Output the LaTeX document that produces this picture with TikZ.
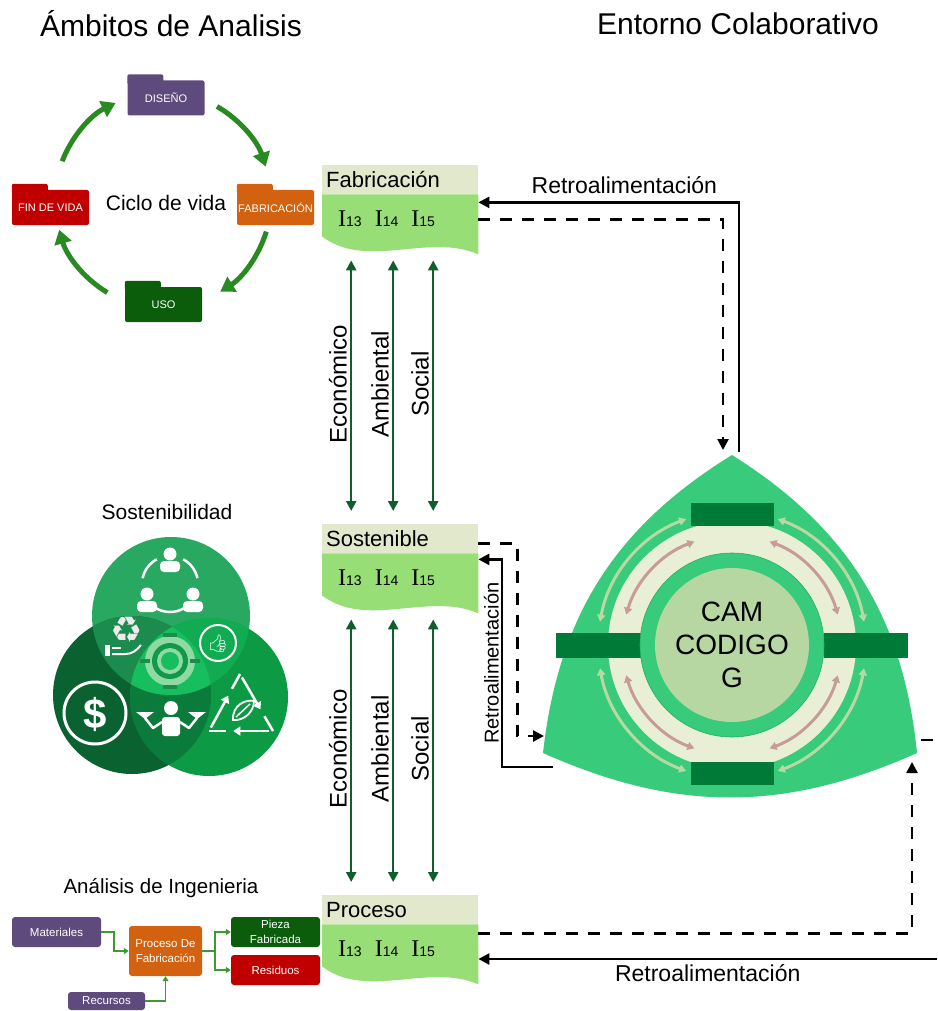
\documentclass[tikz,border=0pt]{standalone}
\usepackage{fontspec}
\setmainfont{Liberation Sans}
\newfontfamily\romanI{Liberation Serif}
\newfontfamily\emojifont{Noto Emoji}
\newfontfamily\symbolfont{DejaVu Sans}
\usetikzlibrary{arrows.meta,calc}

\definecolor{hdrbg}{HTML}{E2E8CB}
\definecolor{bodybg}{HTML}{98DE76}
\definecolor{cycgreen}{HTML}{2A8A22}
\definecolor{tiegreen}{HTML}{0F5F2C}
\definecolor{flowgreen}{HTML}{3C9A30}
\definecolor{fpurple}{HTML}{5E4A7C}
\definecolor{forange}{HTML}{D2620F}
\definecolor{fred}{HTML}{C00000}
\definecolor{fdkgreen}{HTML}{0B5C0B}
\definecolor{camg}{HTML}{37CB7B}
\definecolor{camedge}{HTML}{27AD63}
\definecolor{camdark}{HTML}{007A37}
\definecolor{camcore}{HTML}{B6D7A1}
\definecolor{cream}{HTML}{E9EFD4}
\definecolor{palearc}{HTML}{B9D9A4}
\definecolor{rosearc}{HTML}{C79C98}
\definecolor{vtop}{HTML}{29A862}
\definecolor{vleft}{HTML}{0A6230}
\definecolor{vright}{HTML}{0C9A45}
\definecolor{vtl}{HTML}{1B8B4E}
\definecolor{vtr}{HTML}{11AC52}
\definecolor{vlr}{HTML}{0B7B3B}
\definecolor{vmid}{HTML}{16BE5E}
\definecolor{tgpale}{HTML}{8FD9A2}

% I13-style indicator: roman I, sans digits on the same baseline
\newcommand{\indx}[1]{{\romanI\fontsize{24pt}{24pt}\selectfont I}{\fontsize{14pt}{14pt}\selectfont #1}}
% indicator block: beige title strip, green body with a wavy foot
\newcommand{\indblock}[4]{%
  \node[hdr, anchor=north west] (#1) at (#2,#3) {#4};
  \fill[bodybg] (#1.south west) -- ++(0,42) .. controls +(45,34) and +(-50,-22) .. ([yshift=-60pt]#1.south east) -- (#1.south east) -- cycle;
  \coordinate (#1b) at ([yshift=-66pt]#1.south);
  \node[anchor=west, inner sep=0pt] (#1i) at ([xshift=16pt,yshift=-24pt]#1.south west) {\indx{13}\hspace{13pt}\indx{14}\hspace{13pt}\indx{15}};}

\begin{document}
\begin{tikzpicture}[x=1pt, y=-1pt,
  folder/.style={fill=#1, rounded corners=2pt, minimum width=77pt, minimum height=35pt, inner sep=0pt, text=white, font=\fontsize{11pt}{13pt}\selectfont},
  cyc/.style={cycgreen, line width=5pt, -{Triangle[width=17pt,length=14pt]}},
  hdr/.style={fill=hdrbg, text width=148pt, minimum height=29pt, inner sep=4pt, align=left, font=\fontsize{22pt}{22pt}\selectfont},
  vtie/.style={tiegreen, line width=2.5pt, {Triangle[width=10pt,length=10pt]}-{Triangle[width=10pt,length=10pt]}, shorten >=13pt},
  vlab/.style={rotate=90, anchor=south, inner sep=3pt, text=black, font=\fontsize{24pt}{24pt}\selectfont},
  fb/.style={line width=2.5pt, -{Triangle[width=11pt,length=11pt]}},
  fbd/.style={fb, dash pattern=on 12pt off 10pt},
  retro/.style={font=\fontsize{23pt}{23pt}\selectfont},
  ebox/.style={fill=#1, rounded corners=3pt, inner sep=1pt, text=white, align=center, font=\fontsize{11.5pt}{14.5pt}\selectfont},
  eflow/.style={flowgreen, line width=1.6pt, -{Triangle[width=6pt,length=5pt]}},
  ringarc/.style={line width=3pt, {Triangle[width=8pt,length=7pt]}-{Triangle[width=8pt,length=7pt]}},
  icon/.style={white, line width=2.5pt}]
\path[use as bounding box, fill=white] (0,0) rectangle (937,1011);

\node[font=\fontsize{30pt}{30pt}\selectfont] (ttl) at (171,24) {Ámbitos de Analisis};
\node[font=\fontsize{30pt}{30pt}\selectfont] (ttr) at (738,24) {Entorno Colaborativo};

% life cycle: four folders on a ring of arrows
\coordinate (lc) at (163,200);
\node[font=\fontsize{21pt}{21pt}\selectfont] (cv) at (166,203) {Ciclo de vida};
\node[folder=fpurple]  (dis)  at (166,98)      {DISEÑO};
\node[folder=forange]  (fabr) at (275.5,207.5) {FABRICACIÓN};
\node[folder=fred]     (fin)  at (50.5,207.5)  {FIN DE VIDA};
\node[folder=fdkgreen] (uso)  at (163.5,304.5) {USO};
\foreach \n/\c in {dis/fpurple, fabr/forange, fin/fred, uso/fdkgreen}
  \fill[\c, rounded corners=2pt] ([yshift=-4pt]\n.north west) rectangle ([xshift=36pt,yshift=6pt]\n.north west);
\foreach \a/\b in {-159/-116, -60/-18, 17/58, 121/164}
  \draw[cyc] ($(lc)+(\a:108)$) arc[start angle=\a, end angle=\b, radius=108];

% indicator blocks and the three pillars between them
\indblock{fab}{322}{165}{Fabricación}
\indblock{sos}{322}{524}{Sostenible}
\indblock{pro}{322}{895}{Proceso}
\foreach \d/\lab in {-49/Económico, -7/Ambiental, 33/Social}{
  \draw[vtie] ([xshift=\d pt]fabb) -- ([xshift=\d pt]sos.north) node[vlab, pos=0.47] {\lab};
  \draw[vtie] ([xshift=\d pt]sosb) -- ([xshift=\d pt]pro.north) node[vlab, pos=0.47] {\lab};
}

% sustainability venn
\node[font=\fontsize{21pt}{21pt}\selectfont] (sost) at (167,512) {Sostenibilidad};
\def\vrad{79}
\coordinate (vt) at (171,616);
\coordinate (vl) at (132,695);
\coordinate (vr) at (209,697);
\fill[vtop] (vt) circle[radius=\vrad];
\fill[vleft] (vl) circle[radius=\vrad];
\fill[vright] (vr) circle[radius=\vrad];
\begin{scope}
  \clip (vl) circle[radius=\vrad];
  \fill[vlr] (vr) circle[radius=\vrad];
\end{scope}
\begin{scope}
  \clip (vt) circle[radius=\vrad];
  \fill[vtl] (vl) circle[radius=\vrad];
  \fill[vtr] (vr) circle[radius=\vrad];
  \clip (vl) circle[radius=\vrad];
  \fill[vmid] (vr) circle[radius=\vrad];
\end{scope}
% people
\foreach \px/\py in {170/547, 147/587, 193/587}{
  \fill[white] (\px,\py+7) circle[radius=6.5];
  \fill[white, rounded corners=4pt] (\px-10,\py+25) rectangle (\px+10,\py+14);
}
\foreach \a/\b in {192/242, 298/348, 60/120}
  \draw[icon] ($(170,584)+(\a:28)$) arc[start angle=\a, end angle=\b, radius=28];
% recycling hand
\node[text=white!85!gray, font=\symbolfont\fontsize{36pt}{36pt}\selectfont] (rcy) at (127,630) {♻};
\fill[white] (105,645) rectangle (110,656);
\draw[white, line width=2pt] (112,654) -- (126,654) .. controls (132,654) and (137,650) .. (141,645);
\draw[white, line width=2pt] (112,648) -- (121,648);
% thumbs up
\draw[white, line width=2pt] (218,643) circle[radius=18];
\node[text=white, font=\emojifont\fontsize{17pt}{17pt}\selectfont] (thb) at (218,644) {👍};
% dollar
\draw[white, line width=3pt] (95,713) circle[radius=31];
\node[text=white, font=\bfseries\fontsize{42pt}{42pt}\selectfont] (usd) at (95,714) {\$};
% balance
\fill[white] (171,708) circle[radius=7];
\fill[white, rounded corners=3pt] (162,717) rectangle (180,736);
\draw[icon, line join=round] (145,718) -- (153,728) -- (162,722);
\draw[icon, line join=round] (197,718) -- (189,728) -- (180,722);
\fill[white] (136,712) -- (154,712) -- (145,719) -- cycle;
\fill[white] (188,712) -- (206,712) -- (197,719) -- cycle;
% recycling triangle with leaf
\coordinate (ra) at (240,674);
\coordinate (rb) at (273,731);
\coordinate (rc) at (209,731);
\foreach \p/\q in {ra/rb, rb/rc, rc/ra}{
  \draw[icon, -{Triangle[width=9pt,length=7pt]}] ($(\p)!0.06!(\q)$) -- ($(\p)!0.62!(\q)$);
  \draw[icon] ($(\p)!0.74!(\q)$) -- (\q);
}
\draw[white, line width=1.8pt] (233,720) .. controls (232,705) and (246,699) .. (254,701) .. controls (254,712) and (244,721) .. (233,720) -- cycle;
\draw[white, line width=1.5pt] (236,717) -- (250,704);
% centre target
\fill[tgpale] (170,661) circle[radius=25];
\fill[vmid!80!black] (170,661) circle[radius=18];
\fill[tgpale] (170,661) circle[radius=13];
\fill[vmid] (170,661) circle[radius=9];
\fill[vtl] (163,633) rectangle (177,637);
\fill[vtl] (163,685) rectangle (177,689);
\fill[vtl] (140,659) rectangle (150,663);
\fill[vtl] (190,659) rectangle (200,663);

% engineering analysis
\node[font=\fontsize{20.5pt}{20.5pt}\selectfont] (ing) at (161,888) {Análisis de Ingenieria};
\node[ebox=fpurple, minimum width=89pt, minimum height=30pt] (mat) at (56.5,932) {Materiales};
\node[ebox=fpurple, minimum width=77pt, minimum height=18pt] (rec) at (106.5,1001) {Recursos};
\node[ebox=forange, minimum width=73pt, minimum height=50pt] (prf) at (165.5,951) {Proceso De\\Fabricación};
\node[ebox=fdkgreen, minimum width=89pt, minimum height=30pt] (pie) at (275.5,932) {Pieza\\Fabricada};
\node[ebox=fred, minimum width=89pt, minimum height=30pt] (res) at (275.5,970) {Residuos};
\draw[eflow] (mat.east) -- ++(13,0) |- (prf.west);
\draw[eflow] (rec.east) -| (prf.south);
\draw[eflow] (prf.east) -- ++(13,0) |- (pie.west);
\draw[eflow] (prf.east) -- ++(13,0) |- (res.west);

% collaborative environment: the CAM rotor
\coordinate (ct) at (732,455);
\coordinate (cl) at (543,753);
\coordinate (cr) at (917,753);
\coordinate (cc) at (732,645);
\fill[camg] (ct) to[bend right=26] (cl) to[bend right=24] (cr) to[bend right=26] (ct) -- cycle;
\fill[cream] (cc) circle[radius=124];
\foreach \b/\s/\e in {0/10/70, 90/20/80, 180/10/70, 270/20/80}
  \draw[ringarc, palearc] ($(cc)+(\b+\s:134)$) arc[start angle=\b+\s, end angle=\b+\e, radius=134];
\foreach \b/\s/\e in {0/16/70, 90/20/74, 180/16/70, 270/20/74}
  \draw[ringarc, rosearc] ($(cc)+(\b+\s:110)$) arc[start angle=\b+\s, end angle=\b+\e, radius=110];
\fill[camdark] (691,503) rectangle (774,526);
\fill[camdark] (691,762) rectangle (774,785);
\fill[camdark] (556,633) rectangle (641,658);
\fill[camdark] (824,633) rectangle (908,658);
\fill[camg, draw=camedge, line width=0.6pt] (cc) circle[radius=92];
\node[circle, fill=camcore, minimum size=154pt, inner sep=0pt, align=center, font=\fontsize{28pt}{33pt}\selectfont] (cam) at (cc) {CAM\\CODIGO\\G};

% feedback loops
\coordinate (camin) at (544,736);
\coordinate (camout) at (553,767);
\coordinate (camrc) at (912,762);
\coordinate (camr) at (921,740);
\coordinate (rimr) at (937,740);
\coordinate (rimb) at (937,959);
\draw[fb] ([xshift=7pt,yshift=3pt]ct) |- ([yshift=-8pt]fab.south east) node[retro, pos=0.72, above=4pt] {Retroalimentación};
\draw[fbd] ([yshift=-25pt]fab.south east) -| ([xshift=-9pt,yshift=5pt]ct);
\draw[fbd] ([yshift=-5pt]sos.east) -- ++(39,0) |- (camin);
\draw[fb] (camout) -- ++(-51,0) |- node[pos=0.25, rotate=90, anchor=south, inner sep=2pt, font=\fontsize{20pt}{20pt}\selectfont] {Retroalimentación} ([yshift=-6pt]sos.south east);
\draw[fbd] ([yshift=-9pt]pro.south east) -| (camrc);
\draw[fbd, -] (camr) -- (rimr);
\draw[fb] (rimb) -- (rimb -| pro.east) node[retro, midway, below=1pt] {Retroalimentación};
\end{tikzpicture}
\end{document}
